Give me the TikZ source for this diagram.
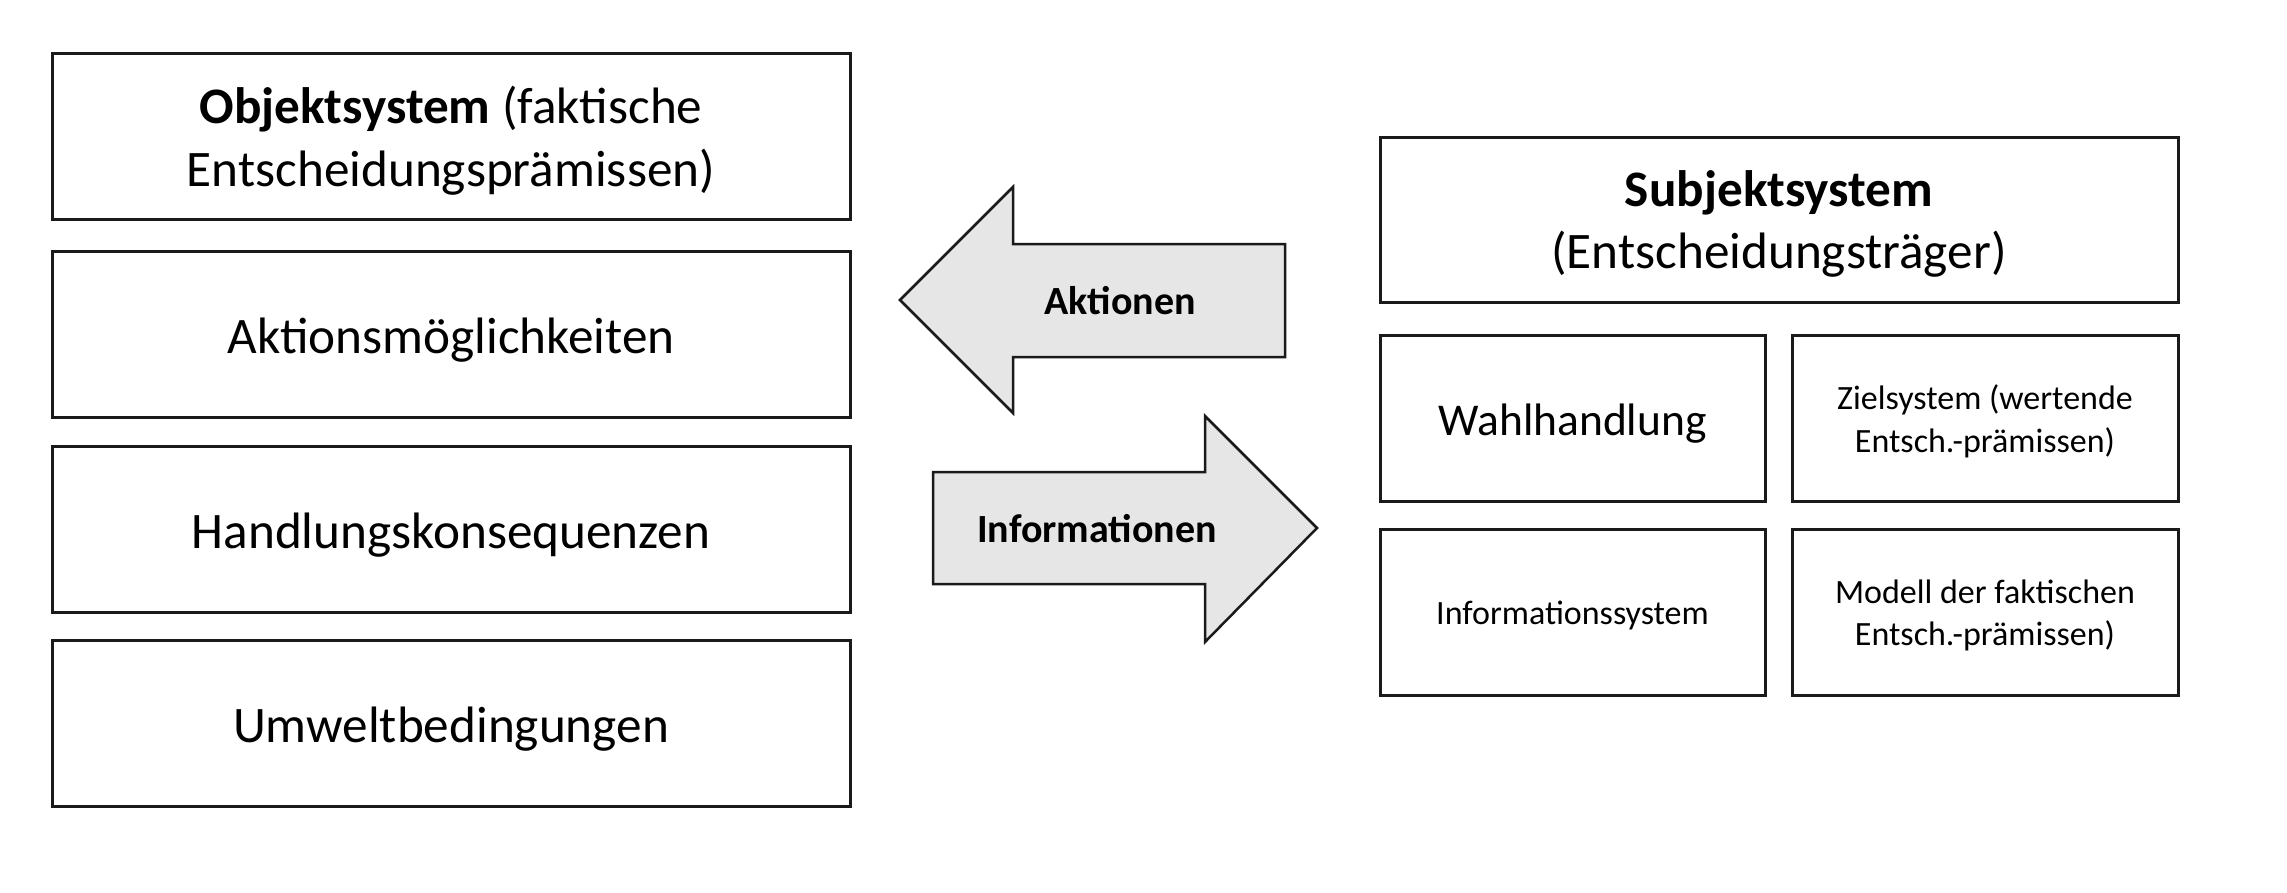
\documentclass[tikz,border=0pt]{standalone}
\usepackage{fontspec}
\setmainfont{Carlito}
\definecolor{boxline}{HTML}{1A1A1A}
\definecolor{arrowfill}{HTML}{E6E6E6}
\tikzset{
  sysbox/.style={draw=boxline, line width=3pt, rectangle, inner sep=0pt, fill=white},
  boxtext/.style={inner sep=0pt, align=center},
  bigtext/.style={boxtext, font=\fontsize{51.2}{62.5}\selectfont},
  midtext/.style={boxtext, font=\fontsize{45.5}{55}\selectfont},
  smalltext/.style={boxtext, font=\fontsize{34}{42.5}\selectfont},
  blockarrow/.style={draw=boxline, line width=2.5pt, fill=arrowfill, line join=miter},
  arrowlabel/.style={font=\fontsize{40}{48}\selectfont\bfseries, inner sep=0pt}
}
\begin{document}
\begin{tikzpicture}[x=1pt, y=-1pt]
\useasboundingbox (0,0) rectangle (2287,892);
% left column
\node[sysbox, minimum width=798pt, minimum height=166pt] (obj) at (451,136) {};
\node[sysbox, minimum width=798pt, minimum height=166pt] (akt) at (451,334.5) {};
\node[sysbox, minimum width=798pt, minimum height=166pt] (hand) at (451,529) {};
\node[sysbox, minimum width=798pt, minimum height=166pt] (umw) at (451,723.5) {};
\node[bigtext, yshift=-4.5pt] (obj-t) at (obj.center) {\textbf{Objektsystem} (faktische\\Entscheidungsprämissen)};
\node[bigtext, yshift=-6pt] (akt-t) at (akt.center) {Aktionsmöglichkeiten};
\node[bigtext, yshift=-6pt] (hand-t) at (hand.center) {Handlungskonsequenzen};
\node[bigtext, yshift=-6pt] (umw-t) at (umw.center) {Umweltbedingungen};
% right column
\node[sysbox, minimum width=798pt, minimum height=165pt] (subj) at (1779,219.5) {};
\node[sysbox, minimum width=385pt, minimum height=166pt] (wahl) at (1572.5,418) {};
\node[sysbox, minimum width=386pt, minimum height=166pt] (ziel) at (1985,418) {};
\node[sysbox, minimum width=385pt, minimum height=166pt] (info) at (1572.5,612) {};
\node[sysbox, minimum width=386pt, minimum height=166pt] (mod) at (1985,612) {};
\node[bigtext, yshift=-4.5pt] (subj-t) at (subj.center) {\textbf{Subjektsystem}\\(Entscheidungsträger)};
\node[midtext, yshift=-6pt] (wahl-t) at (wahl.center) {Wahlhandlung};
\node[smalltext, yshift=-3.5pt] (ziel-t) at (ziel.center) {Zielsystem (wertende\\Entsch.-prämissen)};
\node[smalltext, yshift=-3pt] (info-t) at (info.center) {Informationssystem};
\node[smalltext, yshift=-3.5pt] (mod-t) at (mod.center) {Modell der faktischen\\Entsch.-prämissen)};
% block arrows
\draw[blockarrow] (900,300) -- (1013,187) -- (1013,244) -- (1285,244) -- (1285,357) -- (1013,357) -- (1013,413) -- cycle;
\node[arrowlabel] (aktionen) at (1120,300.5) {Aktionen};
\draw[blockarrow] (1317,528) -- (1205,416) -- (1205,472) -- (933,472) -- (933,584) -- (1205,584) -- (1205,642) -- cycle;
\node[arrowlabel] (informationen) at (1097,528.5) {Informationen};
\end{tikzpicture}
\end{document}
